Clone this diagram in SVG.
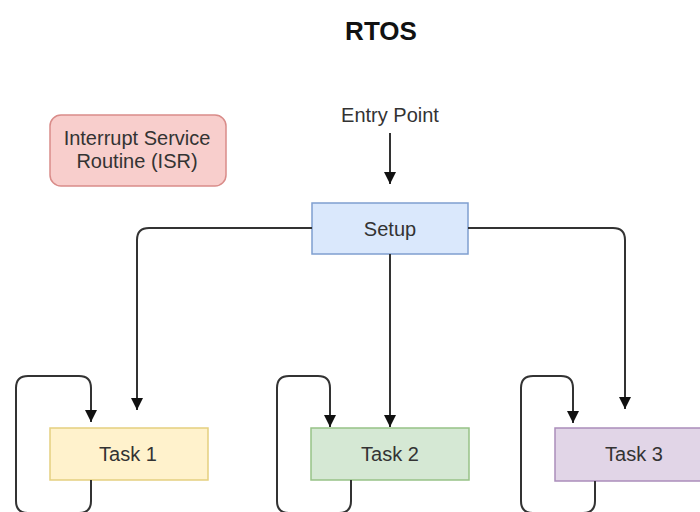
<svg xmlns="http://www.w3.org/2000/svg" width="700" height="512" viewBox="0 0 700 512">
<style>
text{font-family:"Liberation Sans",Arial,sans-serif;font-size:20px;fill:#333;text-anchor:middle}
.t{font-weight:bold;font-size:26px;fill:#111}
.c{fill:none;stroke:#333;stroke-width:2}
</style>
<defs>
<marker id="a" viewBox="0 0 10 10" refX="10" refY="5" markerWidth="12" markerHeight="12" markerUnits="userSpaceOnUse" orient="auto">
<path d="M0,0 L10,5 L0,10 z" fill="#111"/>
</marker>
</defs>
<rect width="700" height="512" fill="#fff"/>
<g id="title"><text class="t" x="381" y="40">RTOS</text></g>
<g id="entry"><text x="390" y="122">Entry Point</text></g>
<g id="isr"><rect x="50" y="115" width="176" height="71" rx="11" fill="#f8cecc" stroke="#d98c89" stroke-width="1.5"/>
<text x="137" y="145">Interrupt Service</text><text x="137" y="168">Routine (ISR)</text></g>
<g id="setup"><rect x="312" y="203" width="156" height="51" fill="#dae8fc" stroke="#7f9fd0" stroke-width="1.5"/><text x="390" y="236">Setup</text></g>
<g id="task1"><rect x="50" y="428" width="158" height="52" fill="#fff2cc" stroke="#e5cf7f" stroke-width="1.5"/><text x="128" y="461">Task 1</text></g>
<g id="task2"><rect x="311" y="428" width="158" height="52" fill="#d5e8d4" stroke="#97c287" stroke-width="1.5"/><text x="390" y="461">Task 2</text></g>
<g id="task3"><rect x="555" y="428" width="160" height="53" fill="#e1d5e7" stroke="#ab8dbb" stroke-width="1.5"/><text x="634" y="461">Task 3</text></g>
<g id="connectors">
<path class="c" d="M390,133 V184" marker-end="url(#a)"/>
<path class="c" d="M312,228 H149 Q137,228 137,240 V410" marker-end="url(#a)"/>
<path class="c" d="M390,254 V427" marker-end="url(#a)"/>
<path class="c" d="M468,228 H613 Q625,228 625,240 V409" marker-end="url(#a)"/>
<path class="c" d="M91,480 V501 Q91,513 79,513 H28 Q16,513 16,501 V388 Q16,376 28,376 H79 Q91,376 91,388 V422" marker-end="url(#a)"/>
<path class="c" d="M351,480 V501 Q351,513 339,513 H289 Q277,513 277,501 V388 Q277,376 289,376 H318 Q330,376 330,388 V427" marker-end="url(#a)"/>
<path class="c" d="M595,481 V501 Q595,513 583,513 H533 Q521,513 521,501 V388 Q521,376 533,376 H561 Q573,376 573,388 V423" marker-end="url(#a)"/>
</g>
</svg>
